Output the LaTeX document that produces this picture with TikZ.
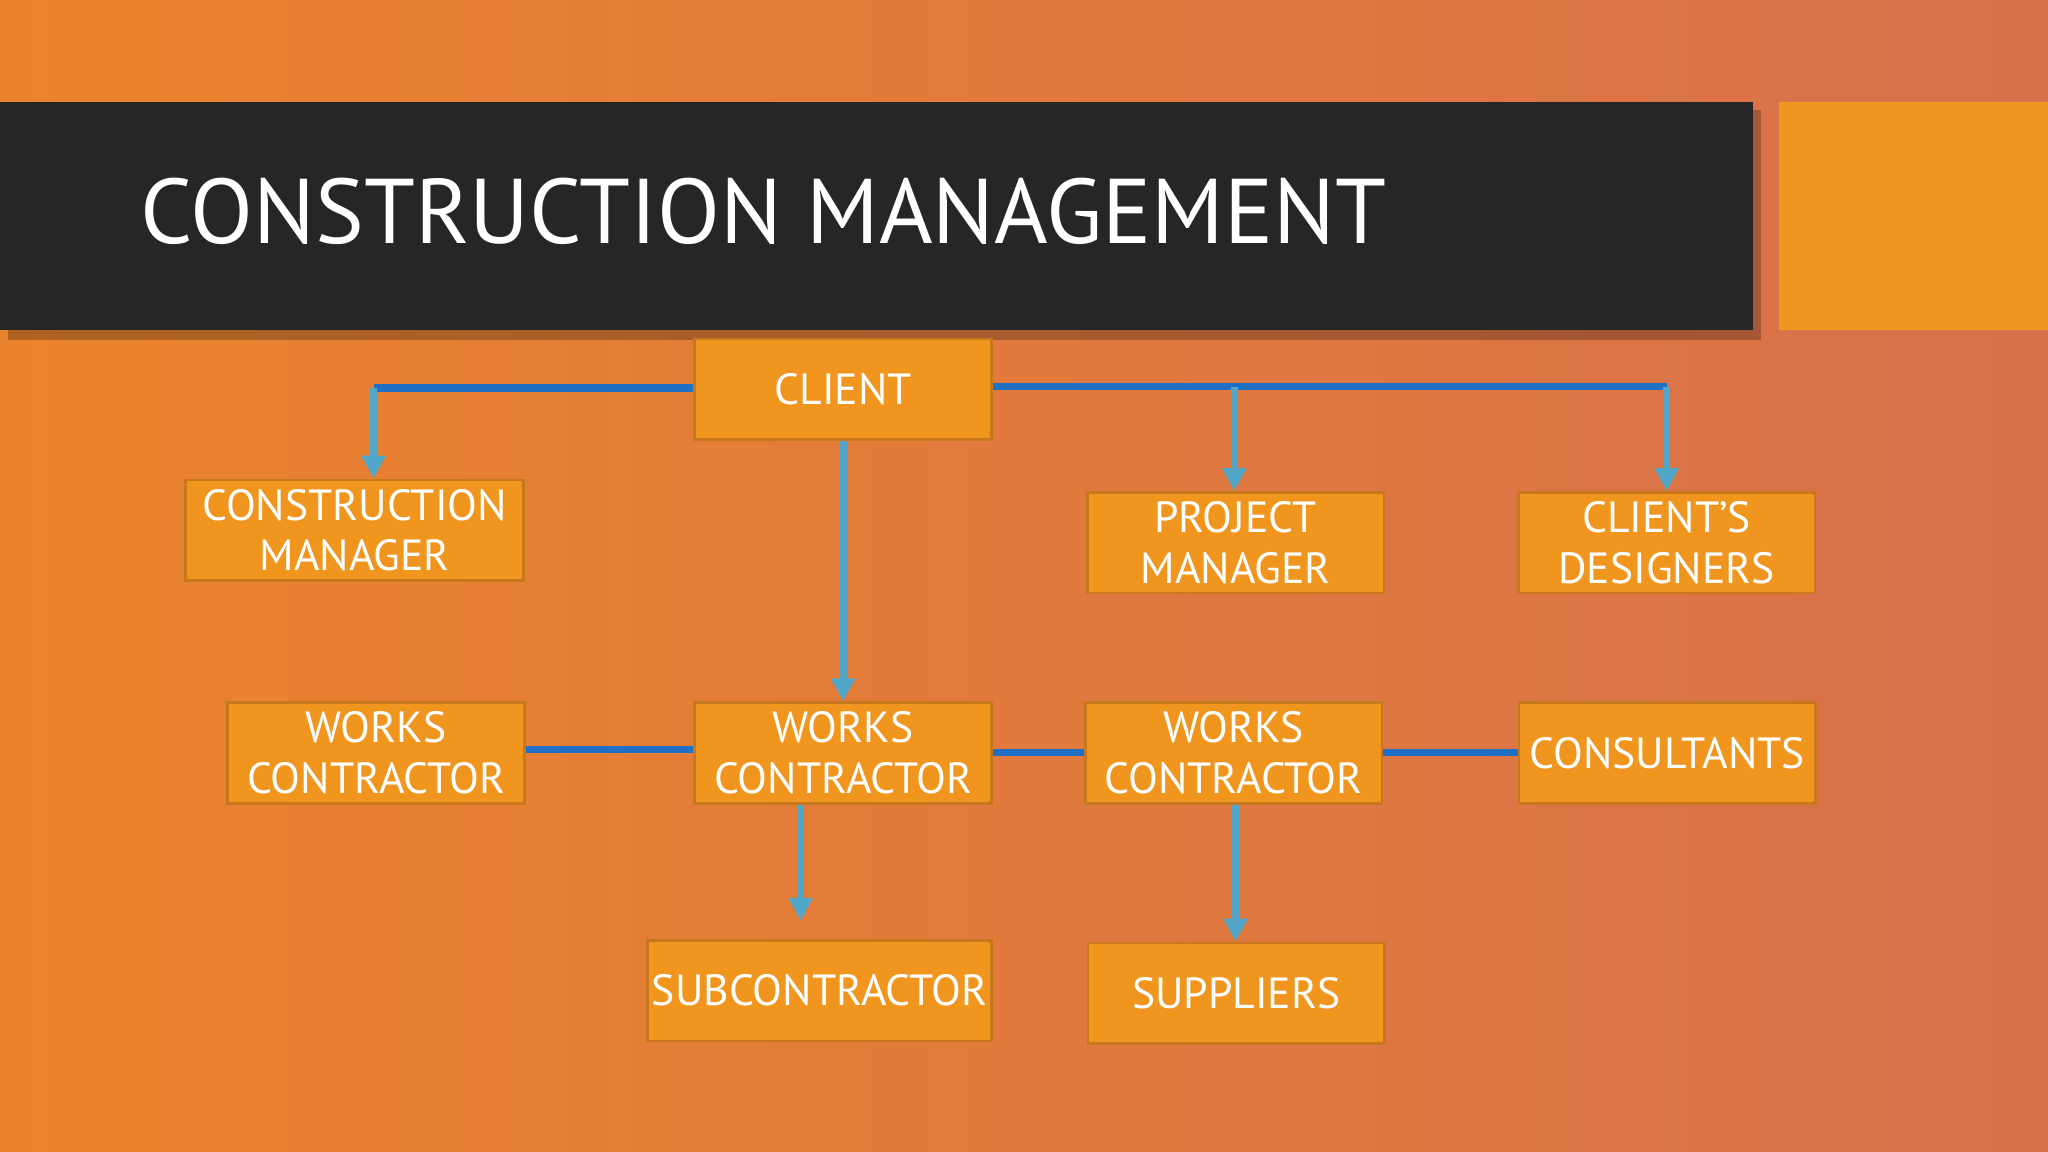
\documentclass[tikz,border=0pt]{standalone}
\usepackage{fontspec}
\setmainfont{PT Sans}
\usetikzlibrary{arrows.meta,shadows}
\definecolor{bgA}{HTML}{EA842C}
\definecolor{bgB}{HTML}{D8704C}
\definecolor{bar}{HTML}{262626}
\definecolor{boxo}{HTML}{F0951E}
\definecolor{boxb}{HTML}{C8781C}
\definecolor{dblue}{HTML}{1F6FC4}
\definecolor{lblue}{HTML}{52A6C8}
\tikzset{
  box/.style={draw=boxb,fill=boxo,line width=0.6pt,text=white,font=\fontsize{9.5}{11}\selectfont,align=center,inner sep=0pt,minimum width=2.27cm,minimum height=0.77cm},
  hline/.style={draw=dblue,line width=1.6pt},
  varrow/.style={draw=lblue,line width=1.6pt,-{Triangle[width=5pt,length=5pt]}}
}
\begin{document}
\begin{tikzpicture}[x=0.01cm,y=-0.01cm]
\useasboundingbox (0,0) rectangle (1568,882);
\shade[left color=bgA,right color=bgB] (0,0) rectangle (1568,882);
\fill[black,opacity=0.25] (6,84) rectangle (1348,260);
\fill[bar] (0,78) rectangle (1342,253);
\fill[boxo] (1362,78) rectangle (1568,253);
\node[anchor=west,text=white,font=\fontsize{20}{24}\selectfont,inner sep=0pt] (title) at (107,162) {CONSTRUCTION MANAGEMENT};

\node[box] (client) at (645.5,298) {CLIENT};
\node[box,minimum width=2.59cm] (cm) at (271.5,406) {CONSTRUCTION\\MANAGER};
\node[box] (pm) at (946,415.5) {PROJECT\\MANAGER};
\node[box] (cd) at (1276,415.5) {CLIENT’S\\DESIGNERS};
\node[box] (wc1) at (288,576.5) {WORKS\\CONTRACTOR};
\node[box] (wc2) at (645.5,576.5) {WORKS\\CONTRACTOR};
\node[box] (wc3) at (944.5,576.5) {WORKS\\CONTRACTOR};
\node[box] (cons) at (1276.5,576.5) {CONSULTANTS};
\node[box,minimum width=2.63cm] (sub) at (627.5,758.5) {SUBCONTRACTOR};
\node[box] (sup) at (946.5,760.5) {SUPPLIERS};

\coordinate (jl) at (286,297);
\coordinate (jm) at (945,296);
\coordinate (jr) at (1276,296);
\draw[hline] (client.west |- jl) -- (jl);
\draw[hline] (client.east |- jm) -- (jr);
\draw[varrow] (jl) -- (jl |- cm.north);
\draw[varrow] (jm) -- (jm |- pm.north);
\draw[varrow] (jr) -- (jr |- cd.north);
\draw[varrow] (client.south) -- (wc2.north);
\draw[hline] (wc1.east |- 0,574) -- (wc2.west |- 0,574);
\draw[hline] (wc2.east |- 0,576) -- (wc3.west |- 0,576);
\draw[hline] (wc3.east |- 0,576) -- (cons.west |- 0,576);
\draw[varrow] (wc2.south -| 613,0) -- (613,705);
\draw[varrow] (wc3.south -| 946,0) -- (sup.north -| 946,0);
\end{tikzpicture}
\end{document}
